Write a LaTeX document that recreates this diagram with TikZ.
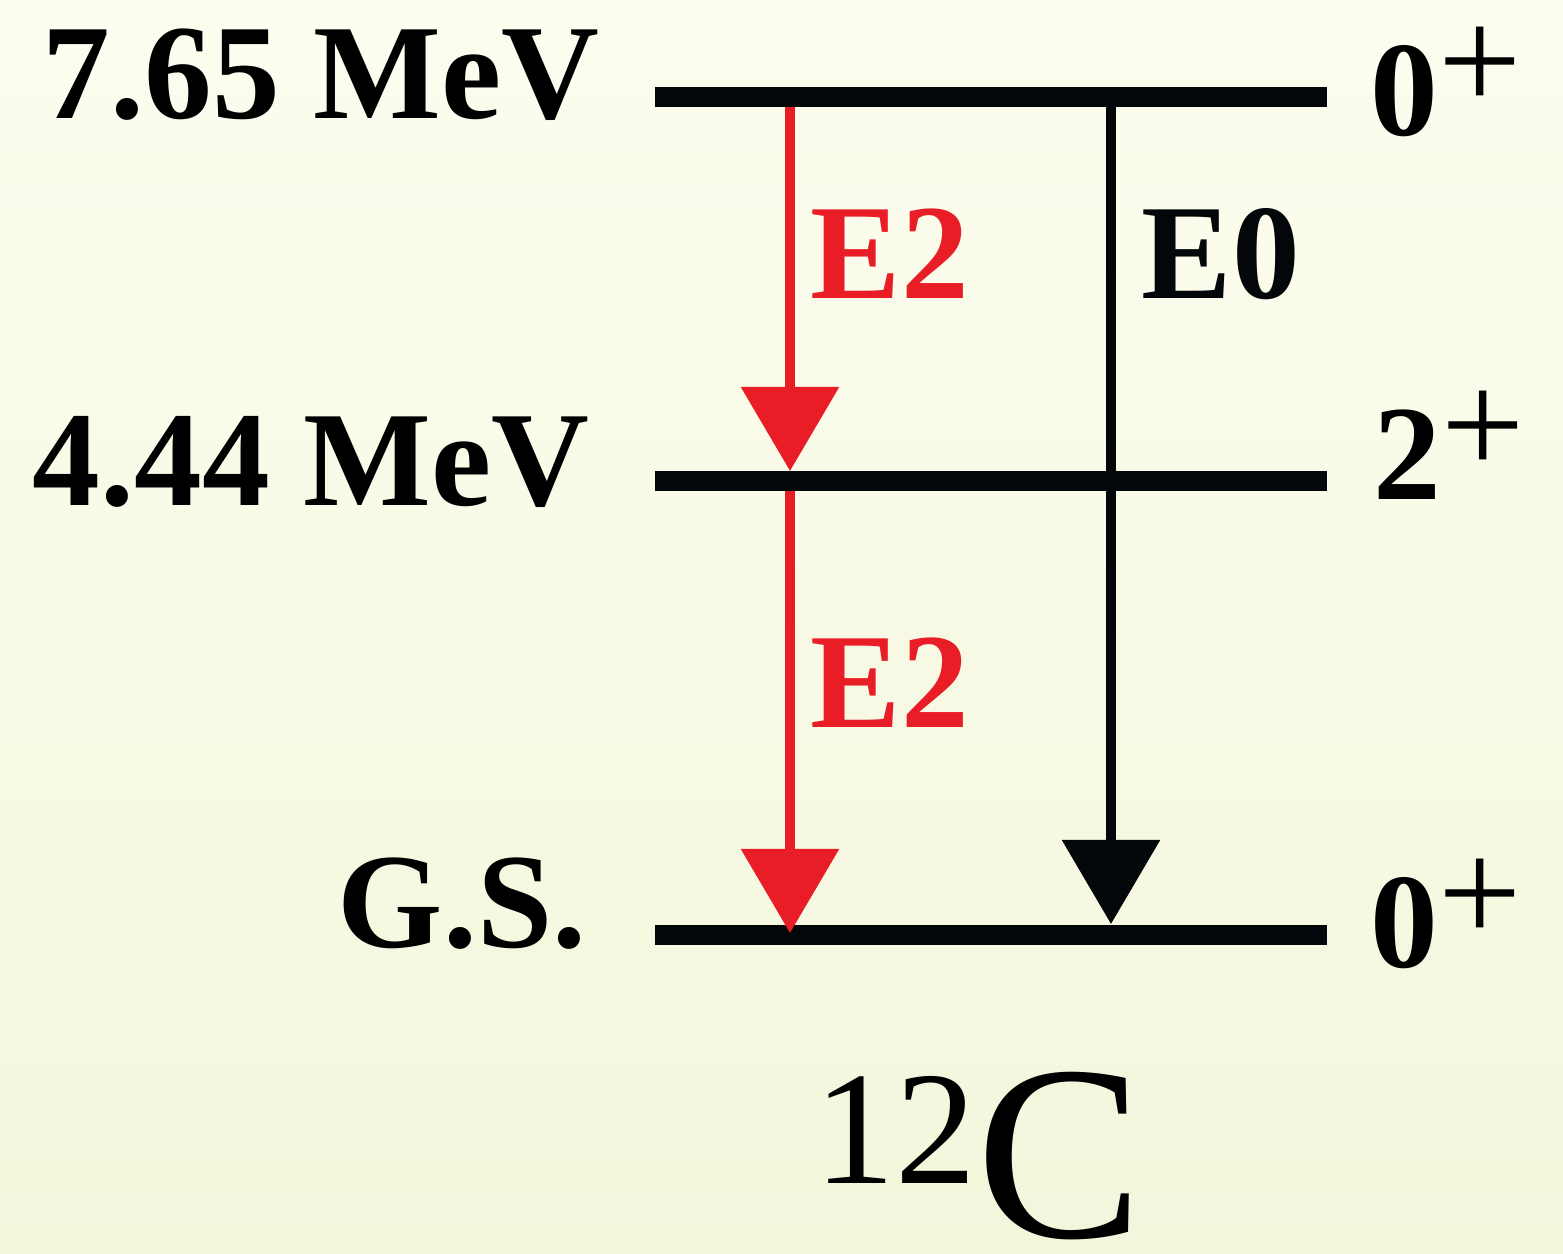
\documentclass[tikz,border=0pt]{standalone}
\usepackage{fontspec}
\setmainfont{Liberation Serif}
\usepackage{xcolor}
\usetikzlibrary{arrows.meta}

\definecolor{rojo}{HTML}{E81D25}
\definecolor{negro}{HTML}{040709}
\definecolor{fondoa}{HTML}{FDFDF0}
\definecolor{fondob}{HTML}{F3F6DB}

\newcommand{\spinpar}[1]{{\bfseries #1}\raisebox{0.18em}{\mdseries\fontsize{42}{44}\selectfont +}}

\tikzset{
  nivel/.style={line width=0.2cm, color=negro},
  etiq/.style={inner sep=0pt, font=\fontsize{38.5}{40}\selectfont\bfseries},
  spinlab/.style={inner sep=0pt, anchor=base west, font=\fontsize{38.5}{40}\selectfont},
  trans/.style={line width=0.095cm, -{Triangle[width=0.96cm, length=0.84cm]}}
}

\begin{document}
\begin{tikzpicture}[x=0.01cm, y=-0.01cm]
        % Fondo
        \shade[top color=fondoa, bottom color=fondob] (0, 0) rectangle (1563, 1253);
        \useasboundingbox (0, 0) rectangle (1563, 1253);

        % Niveles
        \draw[nivel] (655, 97) -- (1327, 97);
        \draw[nivel] (655, 481) -- (1327, 481);
        \draw[nivel] (655, 935) -- (1327, 935);

        % Energías
        \node[etiq, anchor=base east] (l765) at (600, 118) {7.65 MeV};
        \node[etiq, anchor=base east] (l444) at (590, 505) {4.44 MeV};
        \node[etiq, anchor=base east] (lgs) at (587, 947) {G.S.};

        % Espín y paridad
        \node[spinlab] (j0a) at (1370, 135) {\spinpar{0}};
        \node[spinlab] (j2) at (1373, 499) {\spinpar{2}};
        \node[spinlab] (j0b) at (1370, 967) {\spinpar{0}};

        % Transiciones
        \coordinate (ra) at (790, 107);
        \coordinate (rb) at (790, 471);
        \coordinate (rc) at (790, 491);
        \coordinate (rd) at (790, 933);
        \coordinate (na) at (1111, 107);
        \coordinate (nb) at (1111, 924);
        \draw[trans, color=rojo] (ra) -- (rb);
        \draw[trans, color=rojo] (rc) -- (rd);
        \draw[trans, color=negro] (na) -- (nb);

        \node[etiq, anchor=base west, text=rojo] (e2a) at (810, 298) {E2};
        \node[etiq, anchor=base west, text=rojo] (e2b) at (810, 727) {E2};
        \node[etiq, anchor=base west, text=negro] (e0) at (1141, 298) {E0};

        % Núcleo
        \node[inner sep=0pt, anchor=base west, font=\fontsize{46}{50}\selectfont] (masa) at (814, 1183) {12};
        \node[inner sep=0pt, anchor=base west, font=\fontsize{71}{72}\selectfont] (elem) at (976, 1237) {C};

    \end{tikzpicture}
\end{document}
